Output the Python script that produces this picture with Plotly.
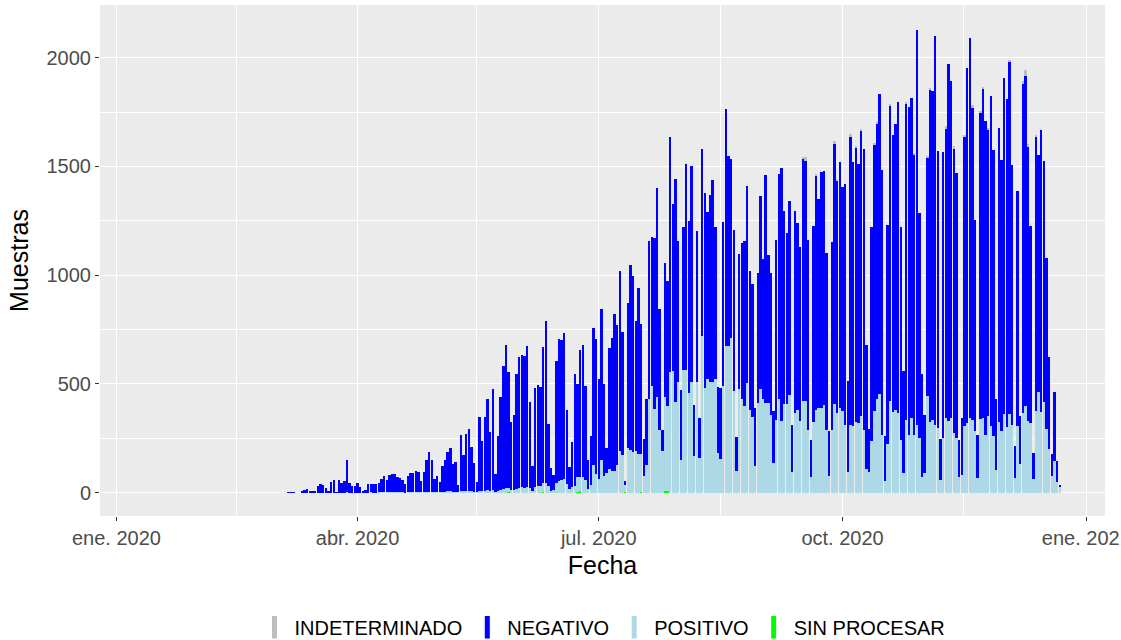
import pandas as pd
import plotly.graph_objects as go

# muestras diarias por resultado, un arreglo por mes
neg_mar = [2, 3, 2, 0, 0, 5, 11, 17, 9, 5, 5, 32, 40, 34, 21, 9, 48, 57, 2, 57, 45, 54, 147, 45, 32, 32]
pos_mar = [0, 0, 0, 0, 0, 0, 0, 1, 0, 0, 0, 1, 1, 1, 0, 0, 1, 1, 0, 1, 1, 1, 2, 1, 1, 1]

neg_abr = [45, 26, 8, 13, 40, 38, 39, 39, 43, 61, 74, 58, 81, 83, 84, 72, 65, 58, 37, 75,
           87, 87, 94, 92, 53, 92, 148, 181, 145, 62]
pos_abr = [1, 0, 0, 1, 1, 2, 1, 1, 2, 2, 3, 2, 2, 3, 2, 2, 3, 2, 1, 3, 3, 2, 4, 3, 2, 3, 4, 5, 4, 2]

neg_may = [74, 47, 120, 144, 180, 201, 127, 135, 35, 260, 168, 264, 287, 203, 132, 45, 337, 229, 339, 420,
           271, 467, 84, 253, 427, 564, 660, 532, 314, 345, 526]
pos_may = [3, 2, 4, 5, 6, 6, 5, 5, 2, 7, 6, 8, 8, 7, 5, 3, 9, 8, 10, 12, 9, 12, 4, 10, 14, 17, 20, 18, 13, 14, 18]

neg_jun = [603, 609, 603, 645, 399, 116, 454, 463, 455, 627, 743, 286, 102, 70, 559, 653, 642, 670, 341, 105,
           208, 512, 430, 583, 606, 433, 135, 226, 630, 620]
pos_jun = [22, 25, 24, 28, 20, 8, 28, 30, 32, 40, 45, 30, 10, 8, 45, 55, 60, 63, 40, 15,
           25, 32, 68, 68, 71, 57, 17, 37, 129, 88]

neg_jul = [462, 691, 426, 116, 558, 615, 722, 641, 826, 564, 18, 668, 850, 811, 600, 763, 599, 172, 304, 729,
           684, 785, 960, 553, 100, 615, 576, 1079, 768, 1024, 647]
pos_jul = [63, 152, 75, 90, 109, 98, 98, 129, 194, 175, 30, 206, 198, 186, 190, 180, 175, 75, 129, 429,
           490, 386, 441, 290, 190, 436, 390, 555, 559, 418, 508]

neg_ago = [318, 661, 950, 788, 996, 234, 696, 184, 861, 896, 771, 861, 930, 702, 302, 325, 756, 1091, 876, 822,
           742, 154, 622, 717, 757, 907, 642, 610, 266, 596, 887]
pos_ago = [152, 562, 562, 459, 508, 167, 508, 160, 720, 482, 521, 508, 508, 521, 183, 155, 490, 674, 674, 713,
           467, 101, 475, 433, 398, 505, 378, 349, 124, 413, 479]

neg_sep = [642, 1048, 681, 653, 238, 830, 1036, 1166, 887, 786, 894, 218, 926, 859, 802, 1117, 1106, 873, 173, 902,
           1076, 960, 1083, 1073, 817, 208, 864, 1197, 1068, 1132]
pos_sep = [432, 413, 413, 356, 137, 333, 429, 329, 406, 406, 449, 95, 367, 379, 329, 421, 421, 290, 71, 324,
           382, 390, 390, 405, 287, 75, 287, 410, 367, 390]

neg_oct = [1029, 1106, 419, 1326, 1213, 1264, 1191, 1313, 1291, 570, 199, 986, 1224, 1264, 1379, 1217, 208, 1004, 1359, 1275,
           1318, 1429, 979, 468, 1452, 1506, 1470, 1286, 1816, 1034, 477]
pos_oct = [375, 313, 94, 313, 309, 324, 321, 352, 290, 109, 94, 237, 375, 432, 452, 267, 52, 226, 421, 370,
           378, 367, 241, 91, 336, 267, 344, 267, 313, 252, 71]

neg_nov = [268, 1098, 1530, 1509, 1785, 1272, 187, 1313, 1332, 1643, 1548, 1309, 1216, 169, 261, 1330, 1631, 1748, 1437, 970,
           199, 1407, 1513, 1444, 1313, 1520, 1316, 323, 1353, 1247]
pos_nov = [91, 444, 324, 336, 313, 298, 60, 252, 344, 329, 344, 275, 252, 72, 83, 309, 321, 344, 336, 283,
           68, 340, 344, 267, 355, 306, 260, 106, 324, 283]

neg_dic = [1544, 1505, 1616, 1194, 146, 1080, 218, 1513, 1516, 1259, 906, 120, 1262, 1091, 1298, 1111, 788, 424, 105, 320,
           96, 5]
pos_dic = [364, 303, 364, 313, 68, 309, 134, 367, 400, 329, 321, 63, 375, 462, 370, 416, 293, 201, 75, 144,
           48, 30]

inicios = ["2020-03-06", "2020-04-01", "2020-05-01", "2020-06-01", "2020-07-01",
           "2020-08-01", "2020-09-01", "2020-10-01", "2020-11-01", "2020-12-01"]
neg_meses = [neg_mar, neg_abr, neg_may, neg_jun, neg_jul, neg_ago, neg_sep, neg_oct, neg_nov, neg_dic]
pos_meses = [pos_mar, pos_abr, pos_may, pos_jun, pos_jul, pos_ago, pos_sep, pos_oct, pos_nov, pos_dic]

# pocos dias con indeterminados / sin procesar
ind_fechas = ["2020-09-16", "2020-09-17", "2020-09-21", "2020-09-28", "2020-09-29", "2020-10-04", "2020-10-06",
              "2020-10-08", "2020-10-13", "2020-10-14", "2020-10-19", "2020-10-25", "2020-10-28", "2020-11-02",
              "2020-11-03", "2020-11-09", "2020-11-12", "2020-11-16", "2020-11-19", "2020-11-22", "2020-11-23",
              "2020-11-25", "2020-12-03", "2020-12-08", "2020-12-09", "2020-12-10", "2020-12-13"]
ind_valores = [5, 15, 8, 8, 8, 8, 6, 6, 10, 8, 6, 6, 8, 8, 8, 8, 8, 6, 8, 6, 5, 8, 8, 12, 25, 15, 8]

sin_fechas = ["2020-05-28", "2020-06-10", "2020-06-14", "2020-06-23", "2020-06-24",
              "2020-07-11", "2020-07-17", "2020-07-26", "2020-07-27"]
sin_valores = [3, 3, 3, 4, 6, 5, 3, 6, 8]

fechas, negativo, positivo = [], [], []
for ini, neg, pos in zip(inicios, neg_meses, pos_meses):
    fechas += list(pd.date_range(ini, periods=len(neg), freq="D"))
    negativo += neg
    positivo += pos

df = pd.DataFrame({"NEGATIVO": negativo, "POSITIVO": positivo}, index=pd.DatetimeIndex(fechas))
df["INDETERMINADO"] = 0
df["SIN PROCESAR"] = 0
for f, v in zip(ind_fechas, ind_valores):
    df.loc[pd.Timestamp(f), "INDETERMINADO"] = v
for f, v in zip(sin_fechas, sin_valores):
    df.loc[pd.Timestamp(f), "SIN PROCESAR"] = v

colores = {"INDETERMINADO": "#BEBEBE", "NEGATIVO": "#0000FF",
           "POSITIVO": "#ADD8E6", "SIN PROCESAR": "#00FF00"}

fuente = "Liberation Sans, Arial, sans-serif"

fig = go.Figure()
# apilado de abajo hacia arriba
for res in ["SIN PROCESAR", "POSITIVO", "NEGATIVO", "INDETERMINADO"]:
    fig.add_trace(go.Bar(
        x=df.index, y=df[res], name=res,
        marker=dict(color=colores[res], line=dict(width=0)),
        showlegend=False, hoverinfo="x+y+name"
    ))

# leyenda con llaves angostas como en ggplot
for res in ["INDETERMINADO", "NEGATIVO", "POSITIVO", "SIN PROCESAR"]:
    fig.add_trace(go.Scatter(
        x=[None], y=[None], mode="markers", name=res,
        marker=dict(symbol="line-ns", size=16, line=dict(width=5, color=colores[res]))
    ))

grid = "white"
fig.update_layout(
    width=1121, height=640,
    barmode="stack", bargap=0.1,
    plot_bgcolor="#EBEBEB", paper_bgcolor="white",
    margin=dict(l=100, r=16, t=5, b=124),
    font=dict(family=fuente, color="black"),
    legend=dict(orientation="h", x=0.5, xanchor="center",
                yref="container", y=0.02, yanchor="middle",
                font=dict(size=20, color="black"), itemsizing="trace", traceorder="normal"),
    xaxis=dict(
        type="date", automargin=False, ticklabeloverflow="allow",
        range=["2019-12-25 19:30", "2021-01-08 01:00"],
        tickvals=["2020-01-01", "2020-04-01", "2020-07-01", "2020-10-01", "2021-01-01"],
        ticktext=["ene. 2020", "abr. 2020", "jul. 2020", "oct. 2020", "ene. 2021"],
        tickfont=dict(size=20, color="#4D4D4D"),
        ticks="outside", ticklen=4, tickcolor="#333333", tickwidth=1,
        showgrid=True, gridcolor=grid, gridwidth=1.2, zeroline=False, showline=False,
        minor=dict(tickvals=["2020-02-15 12:00", "2020-05-16", "2020-08-16", "2020-11-15 12:00"],
                   showgrid=True, gridcolor=grid, gridwidth=0.6, ticks=""),
        title=dict(text="Fecha", font=dict(size=25, color="black"), standoff=8),
    ),
    yaxis=dict(
        automargin=False,
        range=[-107, 2242],
        tickvals=[0, 500, 1000, 1500, 2000],
        tickfont=dict(size=20, color="#4D4D4D"),
        ticks="outside", ticklen=4, tickcolor="#333333", tickwidth=1,
        showgrid=True, gridcolor=grid, gridwidth=1.2, zeroline=False, showline=False,
        minor=dict(tickvals=[250, 750, 1250, 1750], showgrid=True, gridcolor=grid, gridwidth=0.6, ticks=""),
        title=dict(text="Muestras", font=dict(size=25, color="black"), standoff=10),
    ),
)

# sin margen del body para que el grafico quede en (0, 0)
fig.write_html("out.html", config={"displayModeBar": False},
               post_script="document.body.style.margin = '0px';")
